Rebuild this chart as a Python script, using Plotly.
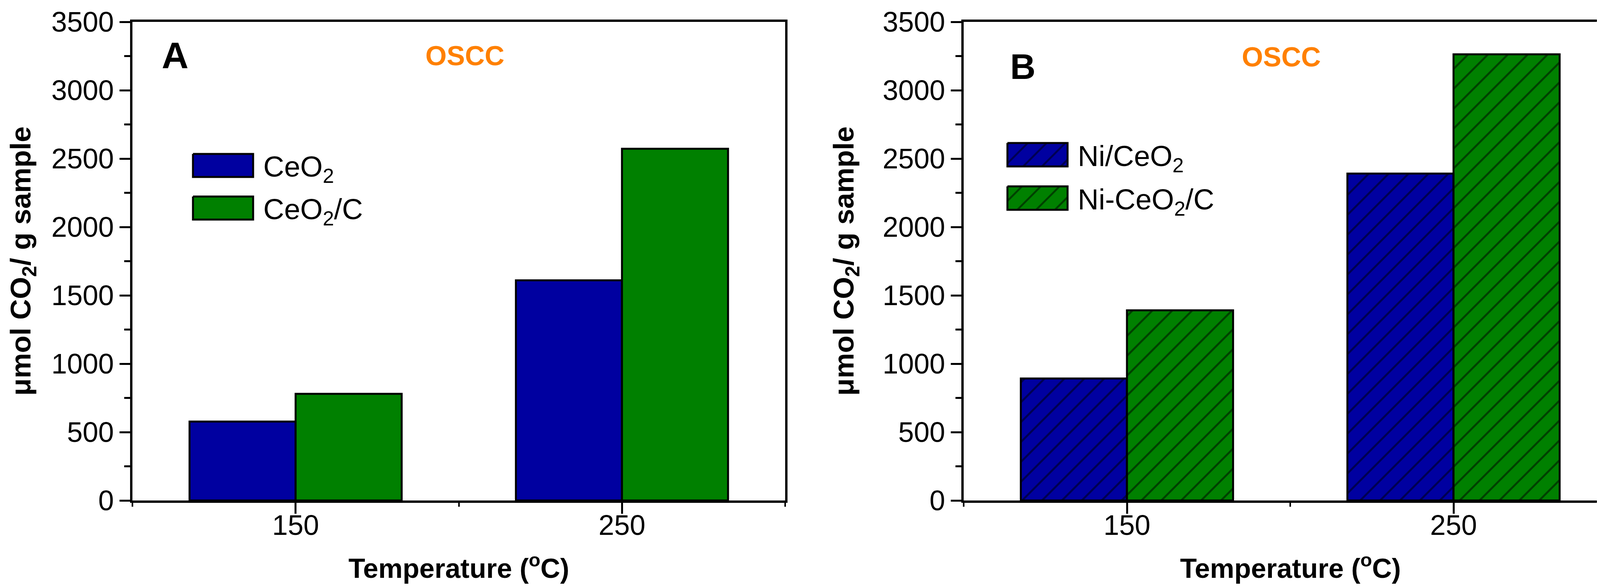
import plotly.graph_objects as go

# ---------------- data ----------------
temps = [150, 250]
ceo2 = [577, 1610]
ceo2_c = [780, 2572]
ni_ceo2 = [892, 2391]
ni_ceo2_c = [1391, 3263]

names_a = ["CeO<sub>2</sub>", "CeO<sub>2</sub>/C"]
names_b = ["Ni/CeO<sub>2</sub>", "Ni-CeO<sub>2</sub>/C"]
x_ticks = [150, 250]
x_minor = [100, 200, 300]

# ---------------- layout constants ----------------
W, H = 4149, 1505
OFF = 8  # page body margin compensation
FONT = "Liberation Sans, Arial, sans-serif"
BLUE = "#0000A0"
GREEN = "#008000"
ORANGE = "#FF8000"

def px(x):
    return (x - OFF) / W

def py(y):
    return 1 - (y - OFF) / H

yb, yt = 1281, 56
dom_y = [py(yb), py(yt)]
dom_xa = [px(339), px(2010)]
dom_xb = [px(2467), px(4139)]

fig = go.Figure()

PAT = dict(shape="/", fgcolor="black", size=36, solidity=0.14)

fig.add_trace(go.Bar(x=temps, y=ceo2, name="CeO2", marker=dict(color=BLUE, line=dict(color="black", width=5)),
                     xaxis="x", yaxis="y", showlegend=False))
fig.add_trace(go.Bar(x=temps, y=ceo2_c, name="CeO2/C", marker=dict(color=GREEN, line=dict(color="black", width=5)),
                     xaxis="x", yaxis="y", showlegend=False))
fig.add_trace(go.Bar(x=temps, y=ni_ceo2, name="Ni/CeO2",
                     marker=dict(color=BLUE, line=dict(color="black", width=5),
                                 pattern=dict(bgcolor=BLUE, **PAT)),
                     xaxis="x2", yaxis="y2", showlegend=False))
fig.add_trace(go.Bar(x=temps, y=ni_ceo2_c, name="Ni-CeO2/C",
                     marker=dict(color=GREEN, line=dict(color="black", width=5),
                                 pattern=dict(bgcolor=GREEN, **PAT)),
                     xaxis="x2", yaxis="y2", showlegend=False))

# ---------------- legend patches (pixel-coordinate helper axes) ----------------
def patch(x0, y0, x1, y1, color, patterned):
    kw = {}
    if patterned:
        kw["fillpattern"] = dict(bgcolor=color, shape="/", fgcolor="black", size=34, solidity=0.14)
    xs = [v - OFF for v in (x0, x1, x1, x0, x0)]
    ys = [v - OFF for v in (y0, y0, y1, y1, y0)]
    fig.add_trace(go.Scatter(x=xs, y=ys, mode="lines",
                             fill="toself", fillcolor=color, line=dict(color="black", width=5),
                             xaxis="x3", yaxis="y3", showlegend=False, hoverinfo="skip", **kw))

patch(494, 394, 648, 453, BLUE, False)
patch(494, 503, 648, 562, GREEN, False)
patch(2579, 366, 2733, 426, BLUE, True)
patch(2579, 477, 2733, 537, GREEN, True)

axis_common = dict(showline=True, linewidth=6, linecolor="black", mirror=True, automargin=False,
                   showgrid=False, zeroline=False, ticks="outside", tickcolor="black",
                   tickfont=dict(family=FONT, size=72, color="black"))

xa = dict(axis_common, range=[100, 300], tickvals=x_ticks, ticktext=[str(v) for v in x_ticks],
          ticklen=28, tickwidth=5, ticklabelstandoff=-32,
          minor=dict(tickvals=x_minor, ticklen=10, tickwidth=4, ticks="outside", tickcolor="black"))
ya = dict(axis_common, range=[0, 3500], dtick=500, tick0=0, ticklen=27, tickwidth=5,
          minor=dict(dtick=250, ticklen=15, tickwidth=5, ticks="outside", tickcolor="black"))

annotations = []

def ann(text, x, y, size, bold=False, color="black", xanchor="center", yanchor="middle", angle=0):
    annotations.append(dict(text=f"<b>{text}</b>" if bold else text, x=px(x), y=py(y), xref="paper", yref="paper",
                            showarrow=False, xanchor=xanchor, yanchor=yanchor, textangle=angle,
                            font=dict(family=FONT, size=size, color=color)))

ann("A", 448, 142, 95, bold=True)
ann("OSCC", 1190, 143, 70, bold=True, color=ORANGE)
ann("B", 2618, 171, 90, bold=True)
ann("OSCC", 3280, 146, 70, bold=True, color=ORANGE)

ann(names_a[0], 672, 432, 74, xanchor="left")
ann(names_a[1], 672, 541, 74, xanchor="left")
ann(names_b[0], 2757, 405, 74, xanchor="left")
ann(names_b[1], 2757, 516, 74, xanchor="left")

ann("Temperature (<sup>o</sup>C)", 1174, 1450, 70, bold=True)
ann("Temperature (<sup>o</sup>C)", 3303, 1450, 70, bold=True)
ann("μmol CO<sub>2</sub>/ g sample", 58, 668, 73, bold=True, angle=-90)
ann("μmol CO<sub>2</sub>/ g sample", 2165, 668, 73, bold=True, angle=-90)

fig.update_layout(
    width=W, height=H, margin=dict(l=0, r=0, t=0, b=0, pad=0),
    paper_bgcolor="white", plot_bgcolor="rgba(0,0,0,0)",
    barmode="group", bargap=0.35, bargroupgap=0,
    xaxis=dict(xa, domain=dom_xa, anchor="y"),
    yaxis=dict(ya, domain=dom_y, anchor="x"),
    xaxis2=dict(xa, domain=dom_xb, anchor="y2"),
    yaxis2=dict(ya, domain=dom_y, anchor="x2"),
    xaxis3=dict(domain=[0, 1], range=[0, W], visible=False, fixedrange=True, anchor="y3", automargin=False),
    yaxis3=dict(domain=[0, 1], range=[H, 0], visible=False, fixedrange=True, anchor="x3", automargin=False),
    annotations=annotations,
    showlegend=False,
)

fig.write_html("out.html")
